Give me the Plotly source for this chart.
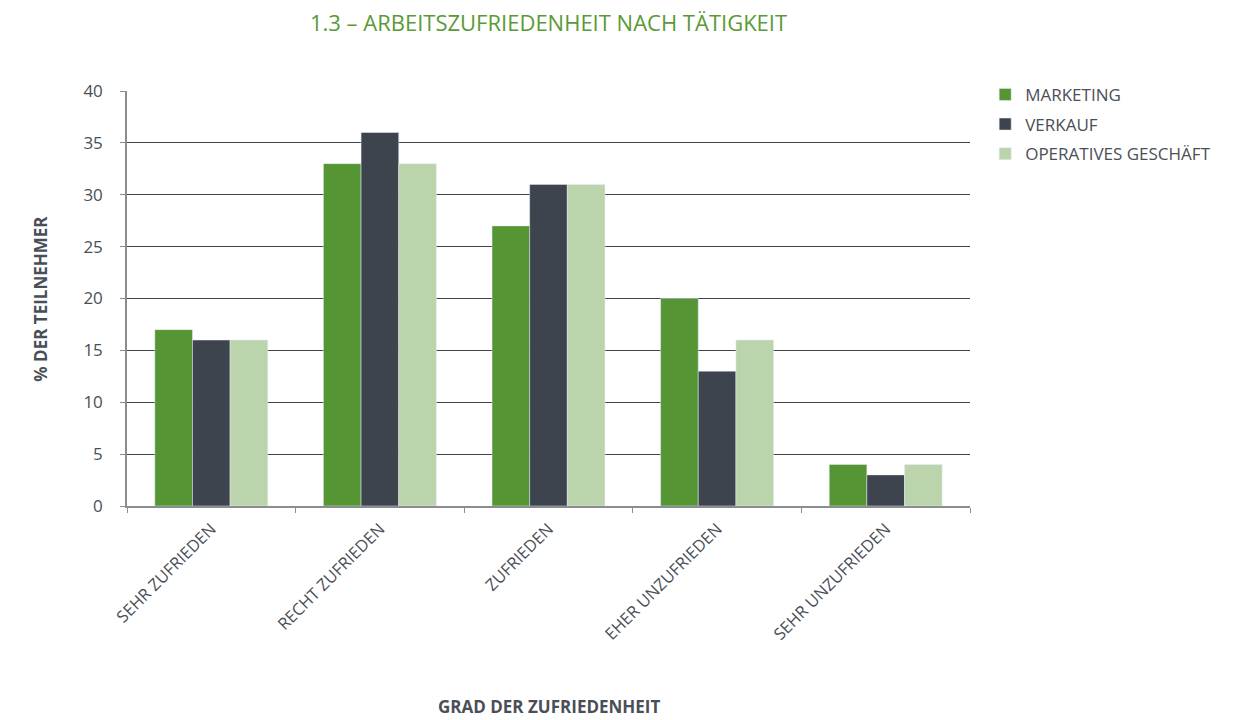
import plotly.graph_objs as go

categories = ["SEHR ZUFRIEDEN", "RECHT ZUFRIEDEN", "ZUFRIEDEN", "EHER UNZUFRIEDEN", "SEHR UNZUFRIEDEN"]
marketing = [17, 33, 27, 20, 4]
verkauf = [16, 36, 31, 13, 3]
operatives = [16, 33, 31, 16, 4]
y_ticks = [0, 5, 10, 15, 20, 25, 30, 35, 40]

TEXT = "#4a4f57"
FONT = "Open Sans"

fig = go.Figure()
fig.add_trace(go.Bar(x=categories, y=marketing, name="MARKETING",
                     marker_color="#559533", legendgroup="m"))
fig.add_trace(go.Bar(x=categories, y=verkauf, name="VERKAUF",
                     marker_color="#3d444e", legendgroup="v"))
fig.add_trace(go.Bar(x=categories, y=operatives, name="OPERATIVES GESCHÄFT",
                     marker_color="#bcd4ab", legendgroup="o"))

# page has an 8px body margin, so the figure is a bit smaller than the window
fig.update_layout(
    barmode="group",
    bargap=0.33,
    bargroupgap=0,
    width=1217,
    height=712,
    paper_bgcolor="white",
    plot_bgcolor="white",
    font=dict(family=FONT, color=TEXT, size=16),
    margin=dict(l=119, r=255, t=83, b=214, autoexpand=False),
    title=dict(
        text="1.3 – ARBEITSZUFRIEDENHEIT NACH TÄTIGKEIT",
        font=dict(size=22, color="#5a9a35", family=FONT),
        x=0.5, xref="paper", xanchor="center",
        y=0.979, yref="container", yanchor="middle",
    ),
    xaxis=dict(
        showline=True,
        linecolor="#8a8d92",
        linewidth=1.5,
        ticks="outside",
        tickson="boundaries",
        ticklen=5,
        tickcolor="#8a8d92",
        tickangle=-45,
        tickfont=dict(size=16.5, color=TEXT),
        ticklabelstandoff=5,
        showgrid=False,
    ),
    yaxis=dict(
        range=[0, 40],
        tickvals=y_ticks,
        showline=True,
        linecolor="#8a8d92",
        linewidth=1.5,
        ticks="outside",
        ticklen=5,
        tickcolor="#8a8d92",
        tickfont=dict(size=17, color=TEXT),
        showgrid=True,
        gridcolor="#3d444e",
        gridwidth=1,
        zeroline=False,
        ticklabelstandoff=14,
    ),
    legend=dict(
        x=1.018, xanchor="left",
        y=1.034, yanchor="top",
        font=dict(size=17, color=TEXT),
        traceorder="grouped",
        tracegroupgap=4.5,
        itemwidth=30,
    ),
    showlegend=True,
)

fig.add_annotation(
    text="<b>% DER TEILNEHMER</b>",
    xref="paper", yref="paper",
    x=-0.103, y=0.5, xanchor="center", yanchor="middle",
    textangle=-90, showarrow=False,
    font=dict(size=17, color=TEXT),
)
fig.add_annotation(
    text="<b>GRAD DER ZUFRIEDENHEIT</b>",
    xref="paper", yref="paper",
    x=0.5, y=-0.482, xanchor="center", yanchor="middle",
    showarrow=False,
    font=dict(size=17, color=TEXT),
)

fig.write_html("out.html")
